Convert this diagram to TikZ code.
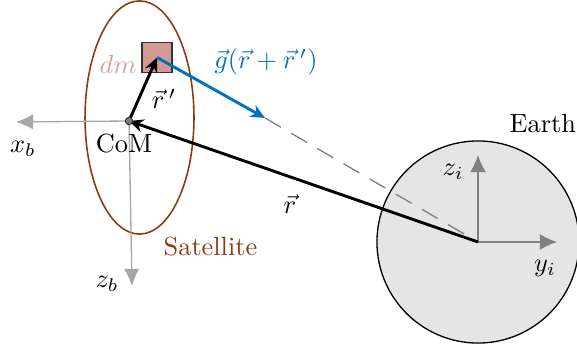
\documentclass[tikz,border=0pt]{standalone}
\usetikzlibrary{arrows.meta}
\definecolor{satbrown}{HTML}{8B3A12}
\definecolor{dmfill}{HTML}{D29A92}
\definecolor{dmtext}{HTML}{D6A098}
\definecolor{gblue}{HTML}{0072BD}
\begin{document}
\begin{tikzpicture}[x=0.38pt,y=-0.38pt,
  bodyax/.style={draw=gray!70,line width=0.5pt,-{Latex[length=6.5pt,width=5.8pt]}},
  inax/.style={draw=gray,line width=0.5pt,-{Latex[length=6.5pt,width=6pt]}},
  vec/.style={line width=1.1pt,-{Stealth[length=5.5pt,width=5pt]}},
  lbl/.style={inner sep=1pt}]
\useasboundingbox (0,0) rectangle (577,351);
% coordinates
\coordinate (earthc) at (478,242);
\coordinate (comc) at (129,121);
\coordinate (dmc) at (157,57.5);
\coordinate (gend) at (265,118);
\coordinate (xbend) at (16,122);
\coordinate (zbend) at (132,286);
\coordinate (ziend) at (478,155);
\coordinate (yiend) at (557,242);
\coordinate (ellc) at (139.5,117.5);
% earth
\node[circle,draw=black,fill=gray!20,line width=0.5pt,minimum size=76.8pt,inner sep=0pt] (earth) at (earthc) {};
% satellite
\draw[satbrown,line width=0.6pt] (ellc) ellipse [x radius=20.7pt,y radius=44.3pt];
% body axes
\draw[bodyax] (comc) -- (xbend);
\draw[bodyax] (comc) -- (zbend);
% inertial axes
\draw[inax] (earthc) -- (ziend);
\draw[inax] (earthc) -- (yiend);
% dm
\node[draw=black!80,fill=dmfill,line width=0.5pt,minimum size=11.4pt,inner sep=0pt] (dm) at (dmc) {};
% dashed
\draw[gray,line width=0.5pt,dash pattern=on 7pt off 4.5pt] (gend) -- (earthc);
% vectors
\draw[vec] (earthc) -- (comc);
\draw[vec] (comc) -- (dmc);
\draw[vec,gblue] (dmc) -- (gend);
% com
\node[circle,draw=black!80,fill=gray,inner sep=0pt,minimum size=2.8pt] (com) at (comc) {};
% labels
\node[lbl] (lxb) at (23,149) {$x_b$};
\node[lbl] (lzb) at (107,284) {$z_b$};
\node[lbl] (lzi) at (453,172) {$z_i$};
\node[lbl] (lyi) at (545,268) {$y_i$};
\node[inner sep=0pt,anchor=east] (learth) at (576.5,124) {Earth};
\node[lbl] (lcom) at (124,144) {CoM};
\node[lbl,text=satbrown] (lsat) at (210.5,247) {Satellite};
\node[lbl,text=dmtext] (ldm) at (118,64) {$dm$};
\node[lbl] (lrp) at (164,99) {$\vec r\,'$};
\node[lbl] (lr) at (290,204) {$\vec r$};
\node[lbl,text=gblue] (lg) at (266,62) {$\vec g(\vec r+\vec r\,')$};
\end{tikzpicture}
\end{document}
